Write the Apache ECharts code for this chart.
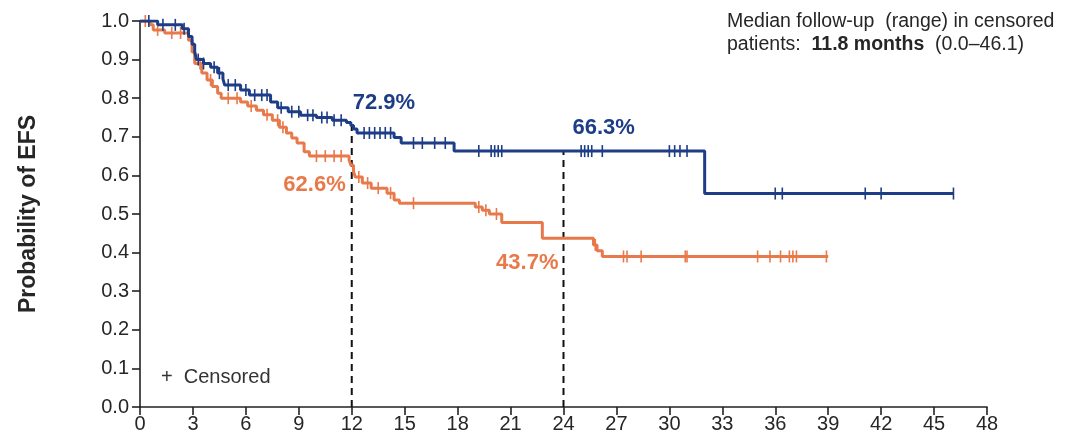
<!DOCTYPE html>
<html>
<head>
<meta charset="utf-8">
<script src="https://cdn.jsdelivr.net/npm/echarts@6/dist/echarts.min.js"></script>
<style>
  html, body { margin: 0; padding: 0; background: #fff; }
  #chart { width: 1082px; height: 446px; }
</style>
</head>
<body>
<div id="chart"></div>
<script>
// Kaplan-Meier event-free survival, two arms: [month, survival after event]
const blueSteps = [
  [0, 1.0], [1.0, 0.99], [2.4, 0.98], [2.75, 0.96], [2.95, 0.94], [3.1, 0.92], [3.2, 0.9],
  [3.6, 0.89], [4.0, 0.88], [4.4, 0.865], [4.7, 0.85], [4.8, 0.834], [5.7, 0.821],
  [6.2, 0.808], [7.4, 0.79], [7.8, 0.775], [8.4, 0.765], [9.1, 0.756], [10.0, 0.75],
  [10.9, 0.743], [11.7, 0.737], [11.95, 0.729], [12.1, 0.72], [12.3, 0.71],
  [14.4, 0.698], [14.8, 0.684], [17.8, 0.663], [32.0, 0.553], [46.1, 0.553]
];
const orangeSteps = [
  [0, 1.0], [0.57, 0.99], [0.75, 0.977], [1.4, 0.969], [2.75, 0.95], [2.95, 0.92],
  [3.1, 0.89], [3.5, 0.865], [3.8, 0.847], [4.1, 0.83], [4.4, 0.813], [4.6, 0.8],
  [5.7, 0.79], [6.1, 0.78], [6.6, 0.769], [7.0, 0.757], [7.5, 0.743], [7.9, 0.725],
  [8.3, 0.71], [8.6, 0.697], [8.9, 0.684], [9.3, 0.661], [9.6, 0.65], [11.85, 0.64],
  [11.95, 0.626], [12.1, 0.61], [12.2, 0.596], [12.6, 0.58], [13.1, 0.567],
  [14.0, 0.554], [14.4, 0.536], [14.7, 0.528], [19.0, 0.518], [19.4, 0.51],
  [19.8, 0.5], [20.5, 0.478], [22.8, 0.437], [25.7, 0.42], [25.9, 0.405],
  [26.2, 0.39], [39.0, 0.39]
];

// Censoring times (months)
const blueCensored = [
  0.5, 1.3, 2.0, 2.5, 3.3, 3.6, 4.2, 4.5, 5.0, 5.4, 6.0, 6.5, 6.9, 7.2, 8.0, 8.6, 9.0,
  9.5, 9.8, 10.3, 10.6, 11.0, 11.4, 12.7, 13.0, 13.3, 13.6, 13.9, 14.2, 15.5, 16.0,
  16.7, 17.3, 19.2, 19.9, 20.1, 20.3, 20.5, 25.0, 25.2, 25.4, 25.6, 26.2, 30.0, 30.3,
  30.6, 31.0, 36.0, 36.4, 41.1, 42.0, 46.1
];
const orangeCensored = [
  0.3, 1.0, 1.8, 2.3, 3.4, 4.0, 5.0, 5.5, 6.3, 7.2, 7.8, 8.1, 10.0, 10.5, 11.0, 11.4,
  12.4, 12.9, 13.5, 14.2, 15.5, 19.2, 19.6, 20.2, 25.8, 27.4, 27.6, 28.4, 30.9, 31.0,
  35.0, 35.7, 36.3, 36.8, 37.0, 37.2, 38.9
];

// Landmark estimates at 12 and 24 months
const landmarkMonths = [12, 24];
const blueLandmark = [0.729, 0.663];
const orangeLandmark = [0.626, 0.437];

const yTicks = [0, 0.1, 0.2, 0.3, 0.4, 0.5, 0.6, 0.7, 0.8, 0.9, 1.0];

const BLUE = '#1d3d86';
const ORANGE = '#e8794a';
const TEXT = '#262626';
const FONT = '"Liberation Sans", Arial, sans-serif';

function survivalAt(steps, t) {
  let s = steps[0][1];
  for (const [ti, si] of steps) {
    if (ti <= t) s = si; else break;
  }
  return s;
}

const censorPoints = (steps, times) => times.map(t => [t, survivalAt(steps, t)]);

const stepSeries = (name, steps, color, z) => ({
  name, type: 'line', step: 'end', data: steps, showSymbol: false, z,
  lineStyle: { color, width: 3 }, silent: true
});
const censorSeries = (name, steps, times, color, z) => ({
  name, type: 'scatter', data: censorPoints(steps, times), z,
  symbol: 'rect', symbolSize: [1.6, 12],
  itemStyle: { color, opacity: 1 }, silent: true
});

const guideSeries = landmarkMonths.map((m, i) => ({
  type: 'line', data: [[m, 0], [m, blueLandmark[i]]], showSymbol: false, z: 1,
  lineStyle: { color: '#111', width: 2, type: [7, 5] }, silent: true
}));

const pct = v => (v * 100).toFixed(1) + '%';
const labelSeries = (values, color, offsets, align) => ({
  type: 'scatter', symbolSize: 0, z: 10, silent: true,
  itemStyle: { opacity: 1 },
  data: landmarkMonths.map((m, i) => ({
    value: [m, values[i]],
    label: {
      show: true, formatter: pct(values[i]), position: offsets[i],
      align, verticalAlign: 'middle', opacity: 1,
      color, fontSize: 22, fontWeight: 'bold', fontFamily: FONT
    }
  }))
});

const chart = echarts.init(document.getElementById('chart'), null, { renderer: 'canvas' });
chart.setOption({
  animation: false,
  backgroundColor: '#fff',
  grid: { left: 140, right: 95, top: 21, bottom: 39 },
  xAxis: {
    type: 'value', min: 0, max: 48, interval: 3,
    axisLine: { lineStyle: { color: '#222', width: 1.6 } },
    axisTick: { length: 8, lineStyle: { color: '#222', width: 1.6 } },
    axisLabel: { fontSize: 20, color: TEXT, fontFamily: FONT, margin: 7 },
    splitLine: { show: false }
  },
  yAxis: {
    type: 'value', min: 0, max: 1, interval: 0.1,
    name: 'Probability of EFS', nameLocation: 'middle', nameGap: 100,
    nameTextStyle: { fontSize: 23, fontWeight: 'bold', color: TEXT, fontFamily: FONT },
    axisLine: { show: true, lineStyle: { color: '#222', width: 1.6 } },
    axisTick: { show: true, length: 8, lineStyle: { color: '#222', width: 1.6 } },
    axisLabel: {
      fontSize: 20, color: TEXT, fontFamily: FONT, margin: 11,
      formatter: v => yTicks.includes(Math.round(v * 10) / 10) ? v.toFixed(1) : ''
    },
    splitLine: { show: false }
  },
  series: [
    ...guideSeries,
    stepSeries('orange', orangeSteps, ORANGE, 3),
    censorSeries('orangeCensored', orangeSteps, orangeCensored, ORANGE, 3),
    stepSeries('blue', blueSteps, BLUE, 4),
    censorSeries('blueCensored', blueSteps, blueCensored, BLUE, 4),
    labelSeries(blueLandmark, BLUE, [[1, -23], [9, -23]], 'left'),
    labelSeries(orangeLandmark, ORANGE, [[-6, 20], [-5, 25]], 'right')
  ],
  graphic: [
    {
      type: 'text', left: 727, top: 10, silent: true,
      style: {
        text: 'Median follow-up  (range) in censored\npatients:  {b|11.8 months}  (0.0–46.1)',
        fontSize: 19.5, fontFamily: FONT, fill: TEXT, lineHeight: 23,
        rich: { b: { fontSize: 19.5, fontWeight: 'bold', fontFamily: FONT, fill: TEXT } }
      }
    },
    {
      type: 'text', left: 161, top: 367, silent: true,
      style: { text: '+  Censored', fontSize: 20, fontFamily: FONT, fill: '#333' }
    }
  ]
});
</script>
</body>
</html>
